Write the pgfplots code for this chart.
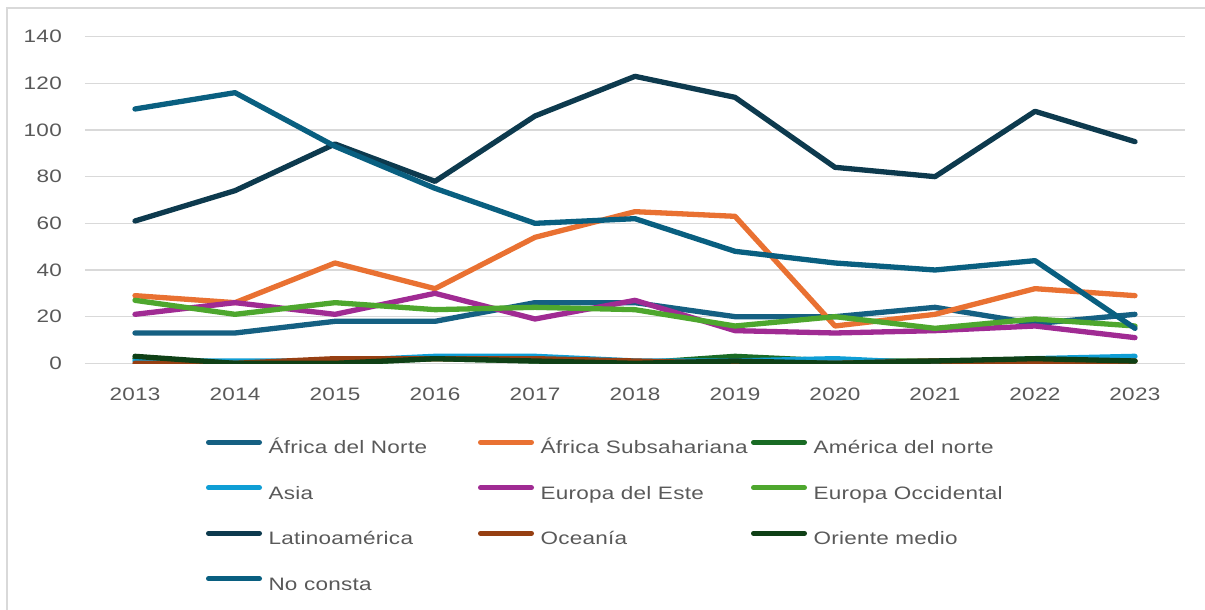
\documentclass[border=0pt]{standalone}
\usepackage{fontspec}
\setmainfont{Liberation Sans}[FakeStretch=1.25,LetterSpace=1.5]
\usepackage{pgfplots}
\pgfplotsset{compat=1.18}
\definecolor{gridgray}{HTML}{D9D9D9}
\definecolor{txtgray}{HTML}{595959}
\definecolor{cAN}{HTML}{156082}
\definecolor{cAS}{HTML}{E97132}
\definecolor{cAmN}{HTML}{196B24}
\definecolor{cAsia}{HTML}{0F9ED5}
\definecolor{cEE}{HTML}{A02B93}
\definecolor{cEO}{HTML}{4EA72E}
\definecolor{cLat}{HTML}{0D3A4E}
\definecolor{cOce}{HTML}{963F12}
\definecolor{cOM}{HTML}{0F4016}
\definecolor{cNC}{HTML}{095F80}
\begin{document}
\begin{tikzpicture}[x=1pt,y=1pt]
\path[use as bounding box] (0,0) rectangle (1205,610);
\draw[gridgray, line width=1.3pt] (7,0) -- (7,602) -- (1205,602);
\begin{axis}[
  at={(85pt,246.67pt)}, anchor=south west,
  scale only axis, width=1100pt, height=326.67pt,
  xmin=2012.5, xmax=2023.5, ymin=0, ymax=140,
  xtick={2013,2014,...,2023}, ytick={0,20,...,140},
  ymajorgrids, grid style={line width=1.3pt, gridgray},
  axis line style={draw=none}, major tick length=0pt,
  tick label style={font=\fontsize{18}{22}\selectfont, text=txtgray},
  /pgf/number format/assume math mode=true,
  x tick label style={/pgf/number format/1000 sep={}, anchor=center, yshift=-31pt},
  y tick label style={anchor=east, inner sep=0pt, xshift=-23pt},
  every axis plot/.append style={line width=5.3pt, line join=round, line cap=round},
  legend columns=3,
  legend cell align=left,
  legend image code/.code={\draw[#1, line width=5pt, line cap=round] (0pt,6.5pt) -- (51pt,6.5pt);},
  legend style={at={(axis description cs:0.11,-0.234)}, anchor=north west,
    draw=none, fill=none, inner sep=0pt, outer sep=0pt, row sep=27.5pt,
    font=\fontsize{18}{22}\selectfont, text=txtgray,
    nodes={inner sep=0pt, text height=14pt, text depth=4pt},
    /tikz/every odd column/.append style={column sep=6.5pt},
    /tikz/every even column/.append style={column sep=0pt}},
]
\addplot[cAN] coordinates {(2013,13)(2014,13)(2015,18)(2016,18)(2017,26)(2018,26)(2019,20)(2020,20)(2021,24)(2022,17)(2023,21)};
\addlegendentry{\makebox[209.5pt][l]{África del Norte}}
\addplot[cAS] coordinates {(2013,29)(2014,26)(2015,43)(2016,32)(2017,54)(2018,65)(2019,63)(2020,16)(2021,21)(2022,32)(2023,29)};
\addlegendentry{\makebox[210.5pt][l]{África Subsahariana}}
\addplot[cAmN] coordinates {(2013,2)(2014,0)(2015,0)(2016,2)(2017,1)(2018,0)(2019,3)(2020,1)(2021,1)(2022,1)(2023,1)};
\addlegendentry{América del norte}
\addplot[cAsia] coordinates {(2013,1)(2014,1)(2015,1)(2016,3)(2017,3)(2018,1)(2019,1)(2020,2)(2021,0)(2022,2)(2023,3)};
\addlegendentry{\makebox[209.5pt][l]{Asia}}
\addplot[cEE] coordinates {(2013,21)(2014,26)(2015,21)(2016,30)(2017,19)(2018,27)(2019,14)(2020,13)(2021,14)(2022,16)(2023,11)};
\addlegendentry{\makebox[210.5pt][l]{Europa del Este}}
\addplot[cEO] coordinates {(2013,27)(2014,21)(2015,26)(2016,23)(2017,24)(2018,23)(2019,16)(2020,20)(2021,15)(2022,19)(2023,16)};
\addlegendentry{Europa Occidental}
\addplot[cLat] coordinates {(2013,61)(2014,74)(2015,94)(2016,78)(2017,106)(2018,123)(2019,114)(2020,84)(2021,80)(2022,108)(2023,95)};
\addlegendentry{\makebox[209.5pt][l]{Latinoamérica}}
\addplot[cOce] coordinates {(2013,0)(2014,0)(2015,2)(2016,2)(2017,2)(2018,1)(2019,0)(2020,0)(2021,1)(2022,0)(2023,1)};
\addlegendentry{\makebox[210.5pt][l]{Oceanía}}
\addplot[cOM] coordinates {(2013,3)(2014,0)(2015,0)(2016,2)(2017,1)(2018,0)(2019,1)(2020,0)(2021,1)(2022,2)(2023,1)};
\addlegendentry{Oriente medio}
\addplot[cNC] coordinates {(2013,109)(2014,116)(2015,93)(2016,75)(2017,60)(2018,62)(2019,48)(2020,43)(2021,40)(2022,44)(2023,15)};
\addlegendentry{\makebox[209.5pt][l]{No consta}}
\end{axis}
\end{tikzpicture}
\end{document}
